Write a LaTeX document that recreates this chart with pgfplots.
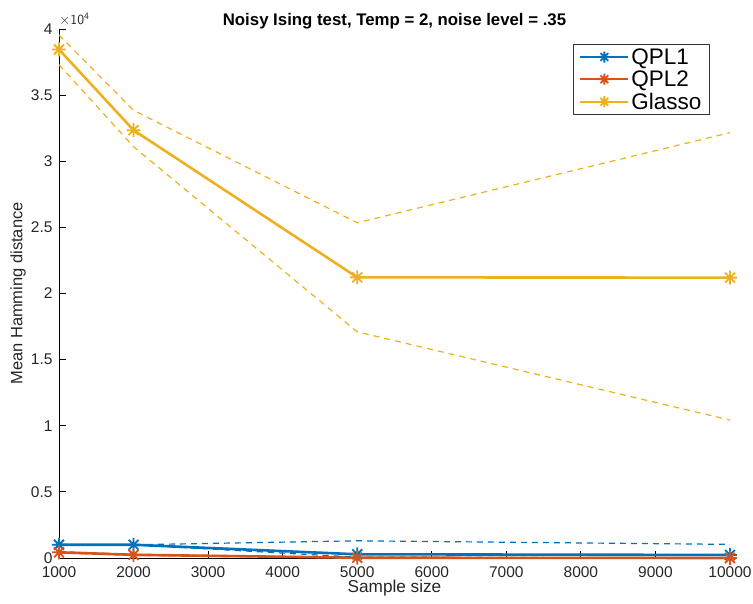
\documentclass[border=0pt]{standalone}
\usepackage{fontspec}
\setmainfont{Liberation Sans}
\usepackage{pgfplots}
\usepackage{pgfplotstable}
\pgfplotsset{compat=1.18}

\definecolor{mblue}{rgb}{0,0.447,0.741}
\definecolor{mred}{rgb}{0.85,0.325,0.098}
\definecolor{myellow}{rgb}{0.929,0.694,0.125}

% eight-pointed star marker
\pgfdeclareplotmark{mstar}{%
  \pgfpathmoveto{\pgfqpoint{-\pgfplotmarksize}{0pt}}%
  \pgfpathlineto{\pgfqpoint{\pgfplotmarksize}{0pt}}%
  \pgfpathmoveto{\pgfqpoint{0pt}{-\pgfplotmarksize}}%
  \pgfpathlineto{\pgfqpoint{0pt}{\pgfplotmarksize}}%
  \pgfpathmoveto{\pgfqpoint{-0.707\pgfplotmarksize}{-0.707\pgfplotmarksize}}%
  \pgfpathlineto{\pgfqpoint{0.707\pgfplotmarksize}{0.707\pgfplotmarksize}}%
  \pgfpathmoveto{\pgfqpoint{-0.707\pgfplotmarksize}{0.707\pgfplotmarksize}}%
  \pgfpathlineto{\pgfqpoint{0.707\pgfplotmarksize}{-0.707\pgfplotmarksize}}%
  \pgfusepathqstroke}

% mean and spread bounds for each method
\pgfplotstableread{
n     mean   lo     hi
1000  1000   1000   1000
2000  1000   1000   1000
5000  280    60     1300
10000 230    0      1030
}\qplone
\pgfplotstableread{
n     mean   lo     hi
1000  430    380    480
2000  240    200    280
5000  20     0      40
10000 0      0      10
}\qpltwo
\pgfplotstableread{
n     mean   lo     hi
1000  38450  37300  39550
2000  32350  31100  33850
5000  21220  17100  25350
10000 21200  10430  32160
}\glasso

\pgfplotsset{
  mainline/.style={line width=2.6pt, mark=mstar, mark size=7pt,
    mark options={line width=1.8pt, solid},
    legend image code/.code={
      \draw[mark repeat=2, mark phase=2, line width=2pt, mark size=5.5pt]
        plot coordinates {(0pt,0pt) (24pt,0pt) (48pt,0pt)};}},
  spread/.style={line width=1.2pt, dash pattern=on 6pt off 5pt, forget plot},
}

\begin{document}
\begin{tikzpicture}
\begin{axis}[
  scale only axis,
  width=671pt, height=529pt,
  xmin=1000, xmax=10000, ymin=0, ymax=40000,
  axis x line*=bottom, axis y line*=left,
  axis line style={black, line width=0.8pt},
  tick align=inside,
  major tick length=7pt,
  tick style={black, line width=0.8pt},
  xtick={1000,2000,...,10000},
  ytick={0,5000,...,40000},
  yticklabels={0,0.5,1,1.5,2,2.5,3,3.5,4},
  scaled x ticks=false, scaled y ticks=false,
  /pgf/number format/assume math mode=true,
  xticklabel={\pgfmathprintnumber[fixed,1000 sep={}]{\tick}},
  ticklabel style={font=\fontsize{15.5}{17}\selectfont, color=black!85},
  xticklabel style={yshift=-5.5pt},
  yticklabel style={xshift=-3pt},
  xlabel={Sample size},
  ylabel={Mean Hamming distance},
  xlabel style={font=\fontsize{17.2}{19}\selectfont, color=black!85,
    at={(rel axis cs:0.5,0)}, anchor=base, yshift=-35pt},
  ylabel style={font=\fontsize{16.5}{18}\selectfont, color=black!85,
    at={(rel axis cs:0,0.5)}, anchor=center, yshift=41pt},
  legend style={at={(0.766,0.9716)}, anchor=north west, draw=black!80, line width=0.8pt,
    font=\fontsize{22.5}{24}\selectfont, inner xsep=6pt, inner ysep=2pt,
    row sep=1pt, cells={anchor=west}},
  legend cell align=left,
  clip=false,
]
\addplot[mblue, mainline] table[x=n,y=mean]{\qplone};
\addlegendentry{QPL1}
\addplot[mred, mainline] table[x=n,y=mean]{\qpltwo};
\addlegendentry{QPL2}
\addplot[myellow, mainline] table[x=n,y=mean]{\glasso};
\addlegendentry{Glasso}

\addplot[mblue, spread] table[x=n,y=hi]{\qplone};
\addplot[mblue, spread] table[x=n,y=lo]{\qplone};
\addplot[mred, spread] table[x=n,y=hi]{\qpltwo};
\addplot[mred, spread] table[x=n,y=lo]{\qpltwo};
\addplot[myellow, spread] table[x=n,y=hi]{\glasso};
\addplot[myellow, spread] table[x=n,y=lo]{\glasso};

\node[anchor=base, font=\fontsize{16.8}{20}\selectfont\bfseries, yshift=3.5pt] at (rel axis cs:0.5,1) {Noisy Ising test, Temp = 2, noise level = .35};
\node[anchor=south west, font=\fontsize{14}{16}\selectfont, color=black!85, inner sep=0pt, yshift=3pt] at (rel axis cs:0,1) {$\times\mathsf{10^4}$};
\end{axis}
\pgfresetboundingbox
\useasboundingbox (-59pt,-46pt) rectangle (694pt,558pt);
\end{tikzpicture}
\end{document}
